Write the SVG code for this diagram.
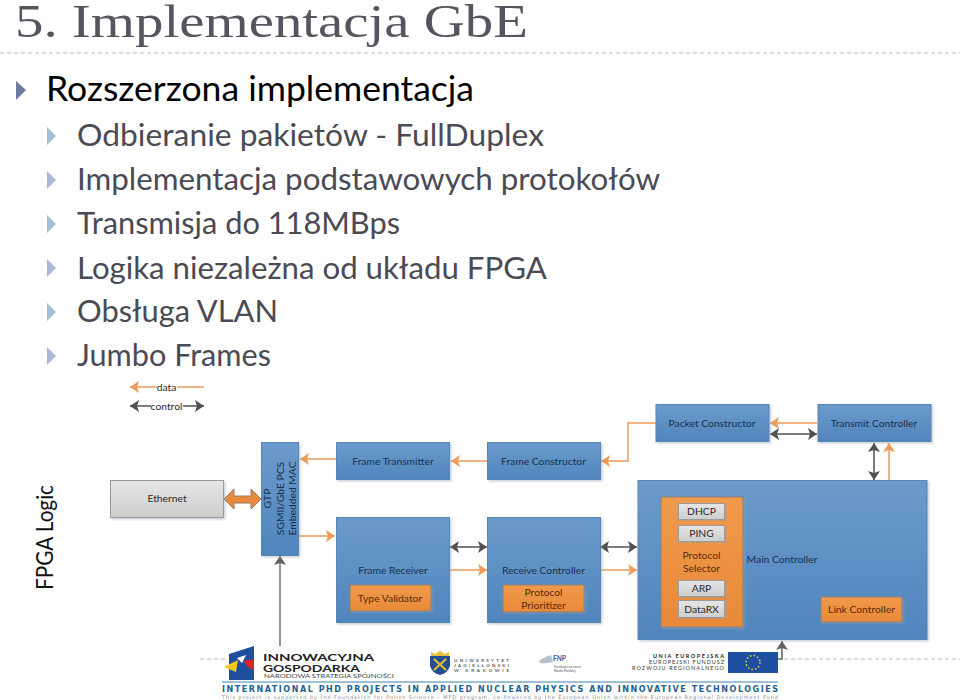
<svg xmlns="http://www.w3.org/2000/svg" width="960" height="700" viewBox="0 0 960 700">
<style>
text{font-family:"Lato","Liberation Sans",sans-serif}
.h2{font-size:31px;fill:#4a4a55}
.lb{font-size:10.300px;fill:#16304f;text-anchor:middle}
.lo{font-size:10.300px;fill:#5a2a0a;text-anchor:middle}
.lg{font-size:10.300px;fill:#2a2a2a;text-anchor:middle}
.bl{fill:url(#gb);stroke:#5a85b3;stroke-width:1;filter:url(#sh)}
.or{fill:url(#go);stroke:#8f8070;stroke-width:1;filter:url(#sh)}
.gr{fill:url(#gg);stroke:#9a9a9a;stroke-width:1;filter:url(#sh)}
.d{fill:none;stroke:#ee9a58;stroke-width:1.500;marker-end:url(#ao)}
.c{fill:none;stroke:#505050;stroke-width:1.500;marker-end:url(#ag);marker-start:url(#ags)}
.b1{fill:#6b7c9f}.b2{fill:#a7bcd8}
.dash{stroke:#b5b5b5;stroke-width:1;stroke-dasharray:4 3;fill:none}
</style>
<defs>
<linearGradient id="gb" x1="0" y1="0" x2="0" y2="1"><stop offset="0" stop-color="#6b9bcb"/><stop offset="1" stop-color="#5085bd"/></linearGradient>
<linearGradient id="go" x1="0" y1="0" x2="0" y2="1"><stop offset="0" stop-color="#f19a4c"/><stop offset="1" stop-color="#e8893a"/></linearGradient>
<linearGradient id="gg" x1="0" y1="0" x2="0" y2="1"><stop offset="0" stop-color="#e6e6e6"/><stop offset="1" stop-color="#cdcdcd"/></linearGradient>
<filter id="sh" x="-5%" y="-5%" width="112%" height="112%"><feDropShadow dx="1.500" dy="1.500" stdDeviation="0.800" flood-color="#8fa0b5" flood-opacity="0.500"/></filter>
<marker id="ao" markerWidth="10" markerHeight="12" refX="9" refY="6" orient="auto" markerUnits="userSpaceOnUse"><path d="M0 0L9 6L0 12L2 6Z" fill="#ee9a58"/></marker>
<marker id="ag" markerWidth="10" markerHeight="12" refX="9" refY="6" orient="auto" markerUnits="userSpaceOnUse"><path d="M0 0L9 6L0 12L2 6Z" fill="#505050"/></marker>
<marker id="ags" markerWidth="10" markerHeight="12" refX="0" refY="6" orient="auto" markerUnits="userSpaceOnUse"><path d="M9 0L0 6L9 12L7 6Z" fill="#505050"/></marker>
<marker id="ag1" markerWidth="10" markerHeight="12" refX="9" refY="6" orient="auto" markerUnits="userSpaceOnUse"><path d="M0 0L9 6L0 12L2 6Z" fill="#606060"/></marker>
</defs>
<rect width="960" height="700" fill="#fff"/>

<g id="slide-text">
<text x="15" y="37" font-size="47" textLength="513" lengthAdjust="spacingAndGlyphs" style="font-family:'Liberation Serif',serif" fill="#55555f">5. Implementacja GbE</text>
<path class="dash" d="M0 53H960"/>
<path class="b1" d="M16 81L26 90L16 100Z"/>
<text x="46" y="101" font-size="34" textLength="428" lengthAdjust="spacingAndGlyphs" fill="#000">Rozszerzona implementacja</text>
<path class="b2" d="M47 127L56 136L47 145Z"/>
<text class="h2" x="77" y="146" textLength="467" lengthAdjust="spacingAndGlyphs">Odbieranie pakietów - FullDuplex</text>
<path class="b2" d="M47 171L56 180L47 189Z"/>
<text class="h2" x="77" y="190" textLength="583" lengthAdjust="spacingAndGlyphs">Implementacja podstawowych protokołów</text>
<path class="b2" d="M47 215L56 224L47 233Z"/>
<text class="h2" x="77" y="234" textLength="323" lengthAdjust="spacingAndGlyphs">Transmisja do 118MBps</text>
<path class="b2" d="M47 259L56 268L47 277Z"/>
<text class="h2" x="77" y="279" textLength="470" lengthAdjust="spacingAndGlyphs">Logika niezależna od układu FPGA</text>
<path class="b2" d="M47 303L56 312L47 321Z"/>
<text class="h2" x="77" y="322" textLength="201" lengthAdjust="spacingAndGlyphs">Obsługa VLAN</text>
<path class="b2" d="M47 347L56 356L47 365Z"/>
<text class="h2" x="77" y="366" textLength="194" lengthAdjust="spacingAndGlyphs">Jumbo Frames</text>
<text x="53" y="590" font-size="23" fill="#111" transform="rotate(-90 53 590)" textLength="105" lengthAdjust="spacingAndGlyphs">FPGA Logic</text>
</g>

<g id="connectors">
<path class="d" d="M204 387H130"/>
<path class="c" d="M130 406H204"/>
<path class="d" d="M487 461H451"/>
<path class="d" d="M336 459H300"/>
<path class="d" d="M299 536H335"/>
<path class="c" d="M450 547H487"/>
<path class="d" d="M450 570H487"/>
<path class="c" d="M600 547H637"/>
<path class="d" d="M600 570H637"/>
<path class="d" d="M656 423H628V461H601"/>
<path class="d" d="M817 423H770"/>
<path class="c" d="M770 434H817"/>
<path class="c" d="M874 443V480"/>
<path class="d" d="M889 480V443"/>
<path d="M280 646V556" fill="none" stroke="#707070" stroke-width="1.500" marker-end="url(#ag1)"/>
<path d="M778 659H782V641" fill="none" stroke="#606060" stroke-width="1.500" marker-end="url(#ag1)"/>
<path class="dash" d="M784 659H960M200 659H226"/>
<path d="M224 499L234 489V496H251V489L261 499L251 509V503H234V509Z" fill="#e88b3e" stroke="#9a7a5e" stroke-width="1"/>
</g>

<g id="legend-labels">
<rect x="157" y="380" width="20" height="14" fill="#fff"/><text class="lg" x="166.500" y="391">data</text>
<rect x="151" y="399" width="32" height="14" fill="#fff"/><text class="lg" x="166.500" y="410">control</text>
</g>

<g id="ethernet"><rect class="gr" x="110.500" y="480.500" width="113" height="37"/><text class="lg" x="167" y="502">Ethernet</text></g>
<g id="gtp"><rect class="bl" x="261.500" y="442.500" width="37" height="113"/>
<text class="lb" transform="translate(271 498.500) rotate(-90)">GTP</text>
<text class="lb" transform="translate(284 498.500) rotate(-90)">SGMII/GbE PCS</text>
<text class="lb" transform="translate(296 498.500) rotate(-90)">Embedded MAC</text></g>
<g id="frame-transmitter"><rect class="bl" x="336.500" y="442.500" width="113" height="37"/><text class="lb" x="393" y="465">Frame Transmitter</text></g>
<g id="frame-constructor"><rect class="bl" x="487.500" y="442.500" width="113" height="37"/><text class="lb" x="543.500" y="465">Frame Constructor</text></g>
<g id="packet-constructor"><rect class="bl" x="656" y="404.500" width="113" height="37"/><text class="lb" x="712" y="427">Packet Constructor</text></g>
<g id="transmit-controller"><rect class="bl" x="818" y="404.500" width="113" height="37"/><text class="lb" x="874" y="427">Transmit Controller</text></g>
<g id="frame-receiver"><rect class="bl" x="336.500" y="517.500" width="113" height="105"/><text class="lb" x="393" y="574">Frame Receiver</text>
<rect class="or" x="350" y="585" width="81" height="26"/><text class="lo" x="390" y="602">Type Validator</text></g>
<g id="receive-controller"><rect class="bl" x="487.500" y="517.500" width="113" height="105"/><text class="lb" x="543.500" y="574">Receive Controller</text>
<rect class="or" x="503" y="585" width="81" height="27"/><text class="lo" x="543.500" y="596">Protocol</text><text class="lo" x="543.500" y="609">Prioritizer</text></g>
<g id="main-controller"><rect class="bl" x="638" y="480.500" width="289" height="159"/><text class="lb" x="782" y="563">Main Controller</text></g>
<g id="protocol-selector"><rect class="or" x="661" y="497" width="82" height="130"/><text class="lo" x="701.500" y="559">Protocol</text><text class="lo" x="701.500" y="572">Selector</text></g>
<g id="dhcp"><rect class="gr" x="678.500" y="503.500" width="46" height="16"/><text class="lg" x="701.500" y="515">DHCP</text></g>
<g id="ping"><rect class="gr" x="678.500" y="525.500" width="46" height="16"/><text class="lg" x="701.500" y="537">PING</text></g>
<g id="arp"><rect class="gr" x="678.500" y="580.500" width="46" height="16"/><text class="lg" x="701.500" y="592">ARP</text></g>
<g id="datarx"><rect class="gr" x="678.500" y="600.500" width="46" height="17"/><text class="lg" x="701.500" y="613">DataRX</text></g>
<g id="link-controller"><rect class="or" x="821" y="597" width="81" height="25"/><text class="lo" x="861.500" y="613">Link Controller</text></g>

<g id="footer">
<path d="M229 654L254 646V680H229Z" fill="#1f4f9c"/>
<path d="M237 658L246 655L242 663Z" fill="#fff"/>
<path d="M224 667L238 660L236 672Z" fill="#f2c81e"/>
<path d="M243 661L254 659V670L249 668Z" fill="#d8232a"/>
<text x="263" y="661" font-size="9.500" font-weight="700" fill="#222" textLength="111" lengthAdjust="spacingAndGlyphs">INNOWACYJNA</text>
<text x="263" y="671.500" font-size="9.500" font-weight="700" fill="#222" textLength="97" lengthAdjust="spacingAndGlyphs">GOSPODARKA</text>
<text x="264" y="678" font-size="5.500" fill="#444" textLength="130" lengthAdjust="spacingAndGlyphs">NARODOWA STRATEGIA SPÓJNOŚCI</text>
<path d="M430 656H450V666Q448 673 440 675Q432 673 430 666Z" fill="#24508f"/>
<path d="M431 652L435 654L440 651L445 654L449 652V656H431Z" fill="#e3c13a"/>
<path d="M434 659L446 670M446 659L434 670" stroke="#e3c13a" stroke-width="2"/>
<g font-size="4.500" font-weight="700" fill="#5a5a5a"><text x="454" y="662" textLength="55">UNIWERSYTET</text><text x="454" y="667" textLength="55">JAGIELLOŃSKI</text><text x="454" y="672" textLength="55">W KRAKOWIE</text></g>
<path d="M551 655Q536 660 540 663Q544 664 553 662Z" fill="#b9c1cc"/>
<text x="553" y="661" font-size="7" font-weight="700" font-style="italic" fill="#2a5d9c">FNP</text>
<text x="554" y="668" font-size="3.500" fill="#555">Fundacja na rzecz</text>
<text x="554" y="672" font-size="3.500" fill="#555">Nauki Polskiej</text>
<text x="724" y="658" font-size="5.500" font-weight="700" fill="#222" text-anchor="end" textLength="71">UNIA EUROPEJSKA</text>
<text x="724" y="664" font-size="5.500" fill="#333" text-anchor="end" textLength="75">EUROPEJSKI FUNDUSZ</text>
<text x="724" y="670" font-size="5.500" fill="#333" text-anchor="end" textLength="92">ROZWOJU REGIONALNEGO</text>
<rect x="728" y="652" width="50" height="21" fill="#1d4ea0"/>
<circle cx="753" cy="662.500" r="7" fill="none" stroke="#f3d23a" stroke-width="1.500" stroke-dasharray="1.500 2.200"/>
<path d="M222 682H778" stroke="#3f80ad" stroke-width="1"/>
<text x="222" y="692" font-size="8" font-weight="700" fill="#1f5f90" textLength="556" lengthAdjust="spacing" style="font-family:'DejaVu Sans',sans-serif">INTERNATIONAL PHD PROJECTS IN APPLIED NUCLEAR PHYSICS AND INNOVATIVE TECHNOLOGIES</text>
<text x="222" y="698.500" font-size="5" fill="#8a8a8a" textLength="556" lengthAdjust="spacing" style="font-family:'DejaVu Sans',sans-serif">This project is supported by the Foundation for Polish Science – MPD program, co-financed by the European Union within the European Regional Development Fund</text>
</g>
</svg>
